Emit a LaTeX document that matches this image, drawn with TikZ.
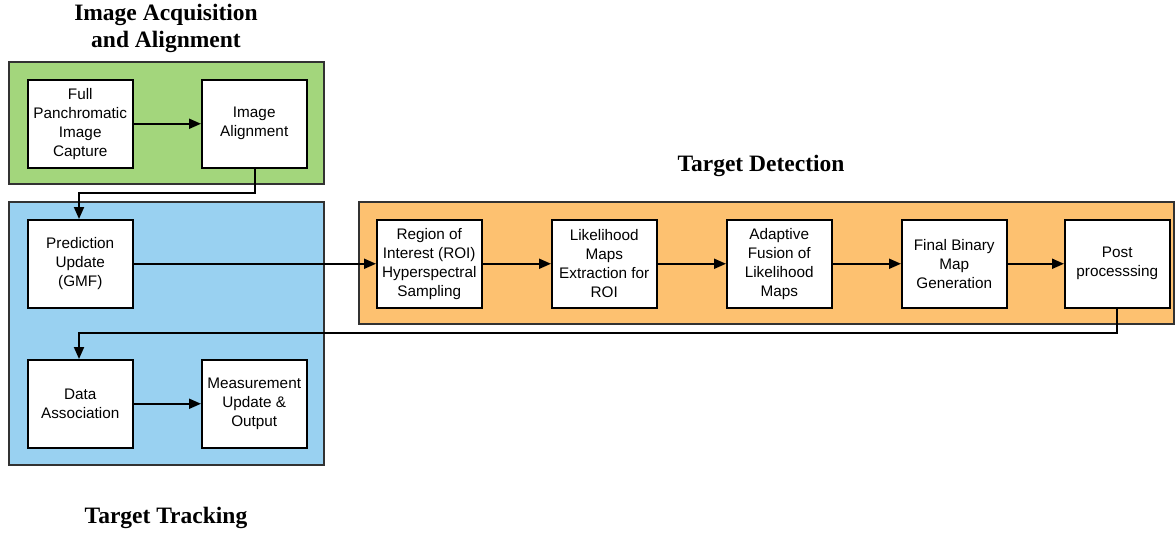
\documentclass[tikz,border=0pt]{standalone}
\usepackage{fontspec}
\setmainfont{Liberation Serif}
\newfontfamily\boxfont{Liberation Sans}
\usetikzlibrary{arrows.meta}
\definecolor{pgreen}{RGB}{163,214,124}
\definecolor{pblue}{RGB}{153,209,241}
\definecolor{porange}{RGB}{253,193,112}
\definecolor{pborder}{RGB}{50,50,50}
\tikzset{
  panel/.style={draw=pborder, line width=1.8pt},
  stepbox/.style={draw=black, fill=white, line width=1.5pt, minimum width=105pt, minimum height=88pt,
    inner sep=0pt, align=center, font=\boxfont\fontsize{15.3}{19}\selectfont, anchor=north west},
  title/.style={align=center, font=\bfseries\fontsize{23.5}{27}\selectfont},
  conn/.style={line width=1.9pt, -{Triangle[length=12pt,width=10pt]}},
}
\begin{document}
\begin{tikzpicture}[x=1pt,y=-1pt]
\useasboundingbox (0,0) rectangle (1175,533);
% panels
\draw[panel, fill=pgreen] (9,62) rectangle (324,184);
\draw[panel, fill=pblue] (9,202) rectangle (324,465);
\draw[panel, fill=porange] (359,202) rectangle (1174,324);
% titles
\node[title] (t1) at (166,28) {Image Acquisition\\and Alignment};
\node[title] (t2) at (761,166) {Target Detection};
\node[title] (t3) at (166,518) {Target Tracking};
% boxes
\node[stepbox] (cap) at (27,79) {Full\\Panchromatic\\Image\\Capture};
\node[stepbox] (ali) at (201,79) {Image\\Alignment};
\node[stepbox] (pre) at (27,219) {Prediction\\Update\\(GMF)};
\node[stepbox] (das) at (27,359) {Data\\Association};
\node[stepbox] (mea) at (201,359) {Measurement\\Update \&\\Output};
\node[stepbox] (roi) at (376,219) {Region of\\Interest (ROI)\\Hyperspectral\\Sampling};
\node[stepbox] (lik) at (551,219) {Likelihood\\Maps\\Extraction for\\ROI};
\node[stepbox] (ada) at (726,219) {Adaptive\\Fusion of\\Likelihood\\Maps};
\node[stepbox] (fin) at (901,219) {Final Binary\\Map\\Generation};
\node[stepbox] (pos) at (1064,219) {Post\\processsing};
% connectors
\draw[conn] (cap.east) -- (ali.west);
\coordinate (a1) at (255,193);
\coordinate (a2) at (79,193);
\draw[conn] (ali.south -| a1) -- (a1) -- (a2) -- (pre.north -| a2);
\draw[conn] (pre.east) -- (roi.west);
\draw[conn] (roi.east) -- (lik.west);
\draw[conn] (lik.east) -- (ada.west);
\draw[conn] (ada.east) -- (fin.west);
\draw[conn] (fin.east) -- (pos.west);
\coordinate (b1) at (1117,333);
\coordinate (b2) at (79,333);
\draw[conn] (pos.south -| b1) -- (b1) -- (b2) -- (das.north -| b2);
\draw[conn] (das.east) -- (mea.west);
\end{tikzpicture}
\end{document}
